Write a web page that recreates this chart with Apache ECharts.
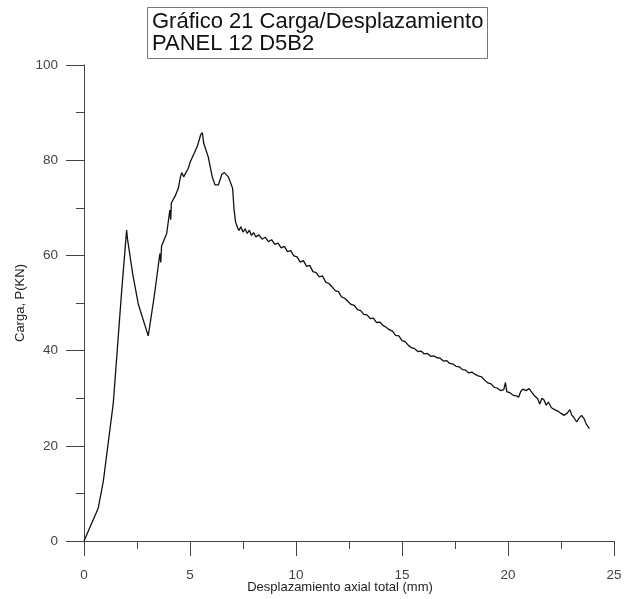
<!DOCTYPE html>
<html>
<head>
<meta charset="utf-8">
<script src="https://cdn.jsdelivr.net/npm/echarts@6/dist/echarts.min.js"></script>
<style>html,body{margin:0;padding:0;background:#fff;}#main{width:629px;height:599px;}</style>
</head>
<body>
<div id="main"></div>
<script>
var titleLines = ['Gráfico 21 Carga/Desplazamiento', 'PANEL 12 D5B2'];
var xAxisName = 'Desplazamiento axial total (mm)';
var yAxisName = 'Carga, P(KN)';
var xTicks = [0, 5, 10, 15, 20, 25];
var yTicks = [0, 20, 40, 60, 80, 100];

var displacement = [
  0, 0.67, 0.91, 1.38, 1.78, 2.01, 2.05, 2.30, 2.56, 3.03, 3.30, 3.58, 3.62, 3.66, 3.90, 4.05, 4.09, 4.12, 4.30, 4.45, 4.55, 4.61, 4.70, 4.92, 5.00, 5.16, 5.35, 5.50, 5.58, 5.65, 5.86, 6.05, 6.18, 6.34, 6.50, 6.62, 6.81, 7.01, 7.08, 7.15,
  7.20, 7.30, 7.40, 7.50, 7.60, 7.70, 7.80, 7.90, 8.00, 8.10, 8.25, 8.40, 8.55, 8.70, 8.85, 9.00, 9.15, 9.30, 9.45, 9.60, 9.75, 9.90,
  10.05, 10.20, 10.35, 10.50, 10.65, 10.80, 10.95, 11.10, 11.25, 11.40, 11.55, 11.70, 11.85, 12.00, 12.15, 12.30, 12.45, 12.60, 12.75, 12.90,
  13.05, 13.20, 13.35, 13.50, 13.65, 13.80, 13.95, 14.10, 14.25, 14.40, 14.55, 14.70, 14.85, 15.00, 15.15, 15.30, 15.45, 15.60, 15.75, 15.90,
  16.05, 16.20, 16.35, 16.50, 16.65, 16.80, 16.95, 17.10, 17.25, 17.40, 17.55, 17.70, 17.85, 18.00, 18.15, 18.30, 18.45, 18.60, 18.75, 18.90,
  19.05, 19.20, 19.35, 19.50, 19.65, 19.80, 19.88, 19.94, 20.10, 20.25, 20.40, 20.50, 20.60, 20.70, 20.85, 21.00, 21.10, 21.25, 21.40, 21.50,
  21.60, 21.70, 21.80, 21.90, 22.05, 22.20, 22.35, 22.50, 22.65, 22.80, 22.92, 23.00, 23.10, 23.24, 23.35, 23.47, 23.60, 23.70, 23.84
];
var load = [
  0, 6.9, 12.5, 28.9, 52.7, 65.3, 63.5, 56.0, 49.8, 43.1, 51.0, 60.4, 58.5, 62.0, 64.6, 69.5, 67.5, 71.0, 72.5, 74.1, 76.5, 77.4, 76.5, 78.3, 79.5, 81.1, 83.0, 85.3, 85.8, 83.5, 80.7, 76.5, 74.8, 74.8, 77.0, 77.4, 76.5, 74.1, 69.5, 67.0,
  66.4, 65.2, 66.0, 64.9, 65.6, 64.6, 65.3, 64.2, 64.8, 63.9, 64.3, 63.4, 63.8, 62.9, 63.3, 62.3, 62.6, 61.6, 61.9, 60.8, 61.0, 59.9,
  59.7, 58.6, 58.9, 57.7, 57.9, 56.6, 56.4, 55.5, 55.7, 54.4, 54.1, 53.4, 52.6, 52.4, 51.3, 51.0, 50.3, 49.7, 49.5, 48.6,
  48.4, 47.6, 47.5, 46.7, 46.8, 45.9, 46.0, 45.3, 44.9, 44.4, 44.1, 43.2, 43.1, 42.1, 41.9, 41.1, 40.6, 40.4, 39.8, 39.9,
  39.3, 39.4, 38.8, 38.9, 38.5, 38.4, 37.8, 37.9, 37.3, 37.2, 36.7, 36.6, 36.0, 35.9, 35.3, 35.5, 35.0, 34.7, 34.5, 33.8,
  33.2, 33.0, 32.3, 32.1, 31.6, 31.8, 33.3, 31.4, 31.1, 30.6, 30.5, 30.2, 31.4, 31.9, 31.6, 32.0, 31.4, 30.5, 29.9, 28.8,
  30.0, 29.6, 28.5, 29.2, 28.0, 27.6, 27.3, 26.8, 26.4, 26.9, 27.6, 26.5, 26.0, 25.0, 25.8, 26.4, 25.6, 24.5, 23.6
];

var points = displacement.map(function (d, i) { return [d, load[i]]; });

var chart = echarts.init(document.getElementById('main'), null, {renderer: 'canvas'});
var fontFam = 'Liberation Sans, Arial, sans-serif';
var axisLabelStyle = {color: '#444', fontSize: 13.5, fontFamily: fontFam};
chart.setOption({
  animation: false,
  backgroundColor: '#fff',
  title: {
    text: titleLines.join('\n'),
    left: 147, top: 7,
    borderColor: '#777', borderWidth: 1,
    padding: [4, 4, 4, 5],
    textStyle: {color: '#111', fontSize: 22, fontWeight: 'normal', lineHeight: 22, fontFamily: fontFam}
  },
  grid: {left: 84, right: 15, top: 65, bottom: 58, containLabel: false, outerBoundsMode: 'none'},
  xAxis: {
    type: 'value', min: xTicks[0], max: xTicks[xTicks.length - 1], interval: 5,
    name: xAxisName, nameLocation: 'middle', nameGap: 40, nameMoveOverlap: false,
    nameTextStyle: {color: '#222', fontSize: 13, fontFamily: fontFam, padding: [0, 18, 0, 0]},
    axisLine: {onZero: false, lineStyle: {color: '#444', width: 1}},
    axisTick: {inside: false, length: 15, lineStyle: {color: '#444'}},
    minorTick: {show: true, splitNumber: 2, length: 8, lineStyle: {color: '#444'}},
    splitLine: {show: false},
    axisLabel: Object.assign({margin: 27}, axisLabelStyle)
  },
  yAxis: {
    type: 'value', min: yTicks[0], max: yTicks[yTicks.length - 1], interval: 20,
    name: yAxisName, nameLocation: 'middle', nameGap: 57, nameRotate: 90, nameMoveOverlap: false,
    nameTextStyle: {color: '#222', fontSize: 13, fontFamily: fontFam},
    axisLine: {show: true, onZero: false, lineStyle: {color: '#444', width: 1}},
    axisTick: {show: true, inside: false, length: 18, lineStyle: {color: '#444'}},
    minorTick: {show: true, splitNumber: 2, length: 8, lineStyle: {color: '#444'}},
    splitLine: {show: false},
    axisLabel: Object.assign({margin: 26}, axisLabelStyle)
  },
  series: [{
    type: 'line', data: points, showSymbol: false, smooth: false,
    lineStyle: {color: '#111', width: 1.3}
  }]
});
</script>
</body>
</html>
